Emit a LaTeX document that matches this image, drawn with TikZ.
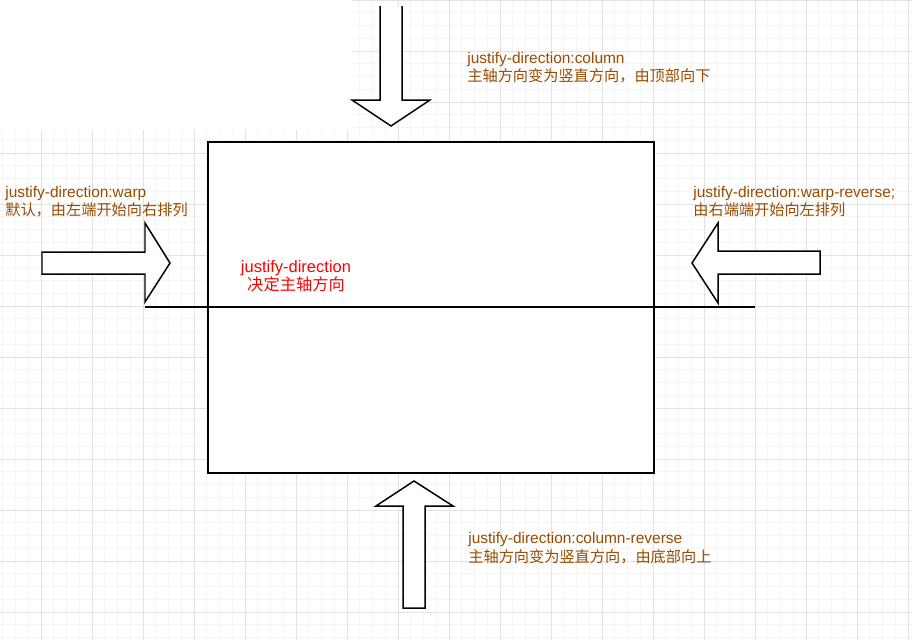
\documentclass[tikz,border=0pt]{standalone}
\usepackage{fontspec}
\setmainfont{Liberation Sans}
\newfontfamily\zhfont{Noto Sans CJK SC}
\definecolor{notebrown}{RGB}{153,76,0}
\definecolor{gridlight}{RGB}{245,245,245}
\definecolor{griddark}{RGB}{226,226,226}
\tikzset{gridminor/.style={draw=gridlight,line width=0.5pt}}
\tikzset{gridmajor/.style={draw=griddark,line width=0.5pt}}
\tikzset{blockarrow/.style={draw=black,fill=white,line width=0.85pt,line join=miter}}
\tikzset{frame/.style={rectangle,draw=black,fill=white,line width=0.85pt,minimum width=8.92cm,minimum height=6.62cm,inner sep=0pt,outer sep=0pt}}
\tikzset{en/.style={text=notebrown,inner sep=0pt,anchor=base west,font=\fontsize{8.8}{10}\selectfont}}
\tikzset{zh/.style={text=notebrown,inner sep=0pt,anchor=base west,font=\zhfont\fontsize{8.65}{10}\selectfont}}
\tikzset{key/.style={text=red,inner sep=0pt,anchor=base}}

\begin{document}
\begin{tikzpicture}[x=0.02cm,y=-0.02cm]
\useasboundingbox (0,0) rectangle (912,640);
\fill[white] (0,0) rectangle (912,640);
% background grid
\foreach \k in {0,...,71}
  \draw[gridminor] (2.75+12.75*\k,0) -- (2.75+12.75*\k,640);
\foreach \k in {0,...,50}
  \draw[gridminor] (0,12.75*\k) -- (912,12.75*\k);
\foreach \k in {0,...,17}
  \draw[gridmajor] (41+51*\k,0) -- (41+51*\k,640);
\foreach \k in {0,...,12}
  \draw[gridmajor] (0,51*\k) -- (912,51*\k);
\fill[white] (0,0) rectangle (352,130);

\node[frame] (box) at (431,307.5) {};
\coordinate (axisL) at (145,307);
\coordinate (axisR) at (755,307);
\draw[line width=0.85pt] (axisL) -- (axisR);

% block arrows
\filldraw[blockarrow] (380,6) -- (380,100) -- (352,100) -- (391,126) -- (430,100) -- (402,100) -- (402,6);
\draw[blockarrow] (42,252) -- (145,252) -- (145,223) -- (170,263) -- (145,302) -- (145,274) -- (42,274) -- cycle;
\draw[blockarrow] (820,251) -- (718,251) -- (718,223) -- (692,263) -- (718,303) -- (718,274) -- (820,274) -- cycle;
\draw[blockarrow] (403,608) -- (403,506) -- (376,506) -- (414,481) -- (453,506) -- (425,506) -- (425,608) -- cycle;

\node[en] (colTitle) at (467,63) {justify-direction:column};
\node[zh] (colNote) at (467,81) {主轴方向变为竖直方向，由顶部向下};
\node[en] (warpTitle) at (5,197) {justify-direction:warp};
\node[zh] (warpNote) at (5,215) {默认，由左端开始向右排列};
\node[en] (revTitle) at (693,197) {justify-direction:warp-reverse;};
\node[zh] (revNote) at (693,215) {由右端端开始向左排列};
\node[en] (colrevTitle) at (468,543) {justify-direction:column-reverse};
\node[zh] (colrevNote) at (468,562) {主轴方向变为竖直方向，由底部向上};
\node[key,font=\fontsize{9.4}{10}\selectfont] (keyTitle) at (296,272) {justify-direction};
\node[key,font=\zhfont\fontsize{9.25}{10}\selectfont] (keyNote) at (296,290) {决定主轴方向};
\end{tikzpicture}
\end{document}
